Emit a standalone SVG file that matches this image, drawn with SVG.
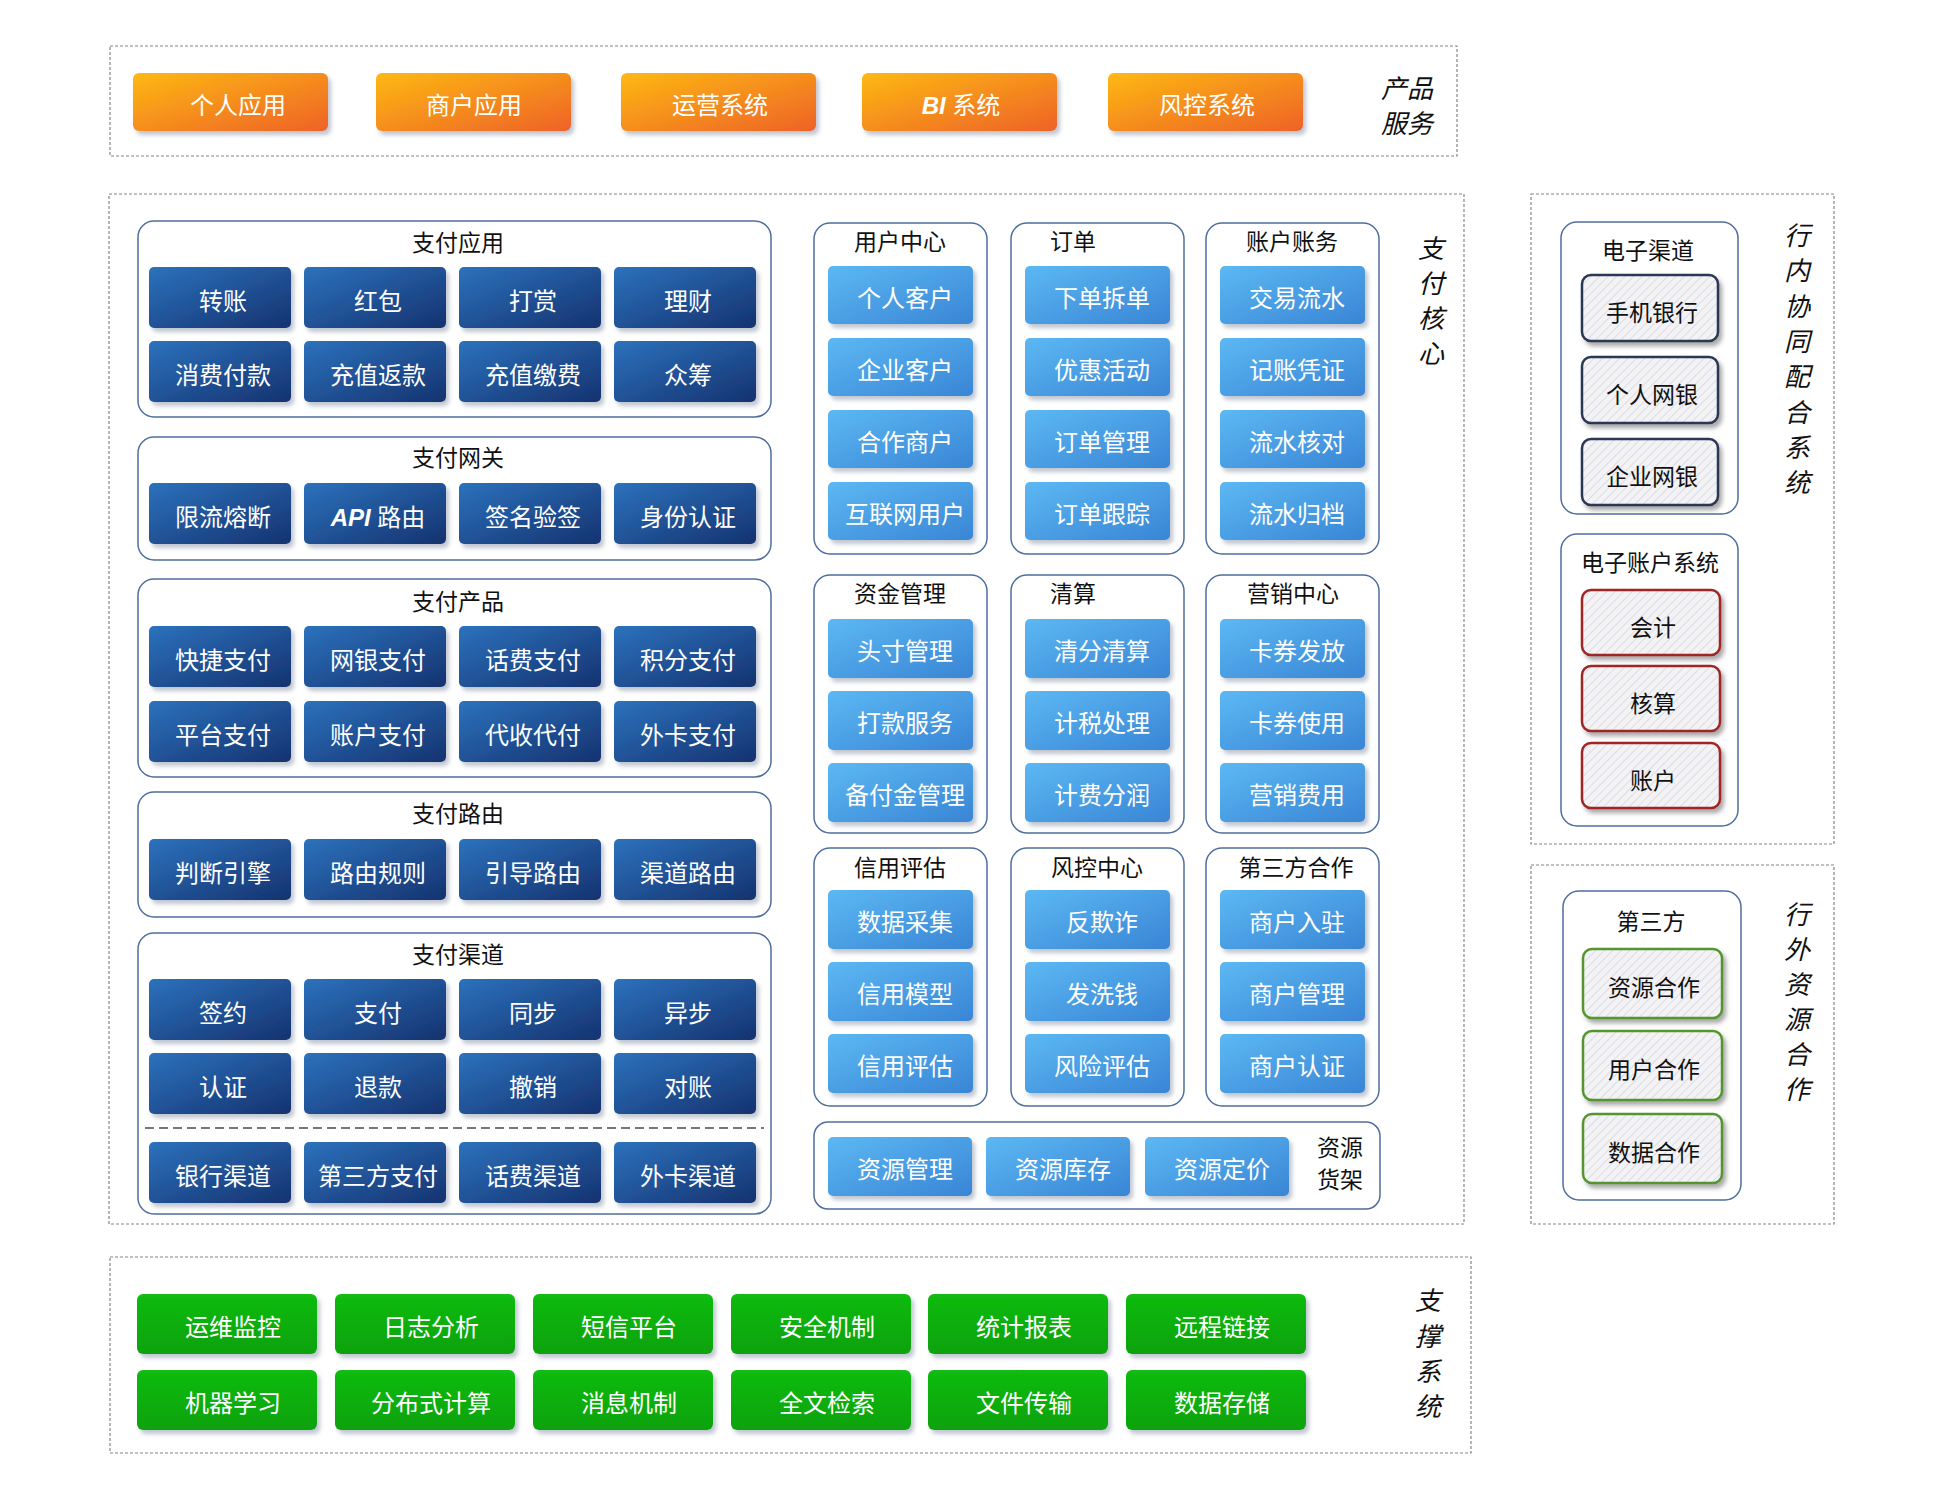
<svg xmlns="http://www.w3.org/2000/svg" width="1946" height="1506" viewBox="0 0 1946 1506">
<defs>
<linearGradient id="gDark" x1="0" y1="0" x2="1" y2="1"><stop offset="0" stop-color="#2c72bd"/><stop offset="1" stop-color="#15326f"/></linearGradient>
<linearGradient id="gLight" x1="0" y1="0" x2="1" y2="1"><stop offset="0" stop-color="#5cb8f3"/><stop offset="1" stop-color="#3985d5"/></linearGradient>
<linearGradient id="gOrange" x1="0" y1="0" x2="1" y2="1"><stop offset="0" stop-color="#fdb913"/><stop offset="1" stop-color="#ee6227"/></linearGradient>
<linearGradient id="gGreen" x1="0" y1="0" x2="0" y2="1"><stop offset="0" stop-color="#12bb12"/><stop offset="1" stop-color="#08a208"/></linearGradient>
<pattern id="hatch" width="6" height="6" patternUnits="userSpaceOnUse" patternTransform="rotate(45)"><rect width="6" height="6" fill="#f3f3f6"/><line x1="0" y1="0" x2="0" y2="6" stroke="#dcdce2" stroke-width="2"/></pattern>
<filter id="sh" x="-10%" y="-10%" width="125%" height="135%"><feDropShadow dx="3" dy="4" stdDeviation="2" flood-color="#8d98aa" flood-opacity="0.55"/></filter>
<filter id="shd" x="-10%" y="-10%" width="125%" height="135%"><feDropShadow dx="3" dy="4" stdDeviation="2.2" flood-color="#555" flood-opacity="0.5"/></filter>
</defs>
<style>
text{font-family:"Liberation Sans","Noto Sans CJK SC",sans-serif}
.frame{fill:none;stroke:#858585;stroke-width:1.2;stroke-dasharray:3 2}
.panel{fill:#fff;stroke:#4f6e9f;stroke-width:1.5}
.dk{fill:url(#gDark);filter:url(#sh)}
.lt{fill:url(#gLight);filter:url(#sh)}
.or{fill:url(#gOrange);filter:url(#sh)}
.gr{fill:url(#gGreen);filter:url(#sh)}
.bn{fill:url(#hatch);stroke:#2b3756;stroke-width:2.5;filter:url(#shd)}
.br{fill:url(#hatch);stroke:#a02525;stroke-width:2.5;filter:url(#shd)}
.bg{fill:url(#hatch);stroke:#55952f;stroke-width:2.5;filter:url(#shd)}
.bt{fill:#fff;font-size:24px;text-anchor:middle}
.kt{fill:#111;font-size:23px;text-anchor:middle}
.tt{fill:#111;font-size:23px;text-anchor:middle}
.vt{fill:#111;font-size:26px;font-style:italic;text-anchor:middle}
.lat{font-weight:bold;font-style:italic}
</style>

<!-- 产品服务 -->
<g id="product-service">
<rect class="frame" x="110" y="46" width="1347" height="110"/>
<g id="n-personal-app"><rect class="or" x="133" y="73" width="195" height="58" rx="6"/><text class="bt" x="238" y="114">个人应用</text></g>
<g id="n-merchant-app"><rect class="or" x="376" y="73" width="195" height="58" rx="6"/><text class="bt" x="474" y="114">商户应用</text></g>
<g id="n-ops"><rect class="or" x="621" y="73" width="195" height="58" rx="6"/><text class="bt" x="720" y="114">运营系统</text></g>
<g id="n-bi"><rect class="or" x="862" y="73" width="195" height="58" rx="6"/><text class="bt" x="961" y="114"><tspan class="lat">BI</tspan> 系统</text></g>
<g id="n-risk-sys"><rect class="or" x="1108" y="73" width="195" height="58" rx="6"/><text class="bt" x="1207" y="114">风控系统</text></g>
<text class="vt" x="1407" y="98">产品</text>
<text class="vt" x="1407" y="133">服务</text>
</g>

<!-- 支付核心 -->
<g id="pay-core">
<rect class="frame" x="109" y="194" width="1355" height="1030"/>
<g class="vlabel"><text class="vt" x="1431" y="258">支</text><text class="vt" x="1431" y="293">付</text><text class="vt" x="1431" y="328">核</text><text class="vt" x="1431" y="363">心</text></g>

<g id="pay-app">
<rect class="panel" x="138" y="221" width="633" height="196" rx="16"/>
<text class="tt" x="458" y="251">支付应用</text>
<g id="n-zz"><rect class="dk" x="149" y="267" width="142" height="61" rx="5"/><text class="bt" x="223" y="310">转账</text></g>
<g id="n-hb"><rect class="dk" x="304" y="267" width="142" height="61" rx="5"/><text class="bt" x="378" y="310">红包</text></g>
<g id="n-ds"><rect class="dk" x="459" y="267" width="142" height="61" rx="5"/><text class="bt" x="533" y="310">打赏</text></g>
<g id="n-lc"><rect class="dk" x="614" y="267" width="142" height="61" rx="5"/><text class="bt" x="688" y="310">理财</text></g>
<g id="n-xffk"><rect class="dk" x="149" y="341" width="142" height="61" rx="5"/><text class="bt" x="223" y="384">消费付款</text></g>
<g id="n-czfk"><rect class="dk" x="304" y="341" width="142" height="61" rx="5"/><text class="bt" x="378" y="384">充值返款</text></g>
<g id="n-czjf"><rect class="dk" x="459" y="341" width="142" height="61" rx="5"/><text class="bt" x="533" y="384">充值缴费</text></g>
<g id="n-zc"><rect class="dk" x="614" y="341" width="142" height="61" rx="5"/><text class="bt" x="688" y="384">众筹</text></g>
</g>

<g id="pay-gateway">
<rect class="panel" x="138" y="437" width="633" height="123" rx="16"/>
<text class="tt" x="458" y="466">支付网关</text>
<g id="n-xlrd"><rect class="dk" x="149" y="483" width="142" height="61" rx="5"/><text class="bt" x="223" y="526">限流熔断</text></g>
<g id="n-api"><rect class="dk" x="304" y="483" width="142" height="61" rx="5"/><text class="bt" x="378" y="526"><tspan class="lat">API</tspan> 路由</text></g>
<g id="n-qmyq"><rect class="dk" x="459" y="483" width="142" height="61" rx="5"/><text class="bt" x="533" y="526">签名验签</text></g>
<g id="n-sfrz"><rect class="dk" x="614" y="483" width="142" height="61" rx="5"/><text class="bt" x="688" y="526">身份认证</text></g>
</g>

<g id="pay-product">
<rect class="panel" x="138" y="579" width="633" height="198" rx="16"/>
<text class="tt" x="458" y="610">支付产品</text>
<g id="n-kjzf"><rect class="dk" x="149" y="626" width="142" height="61" rx="5"/><text class="bt" x="223" y="669">快捷支付</text></g>
<g id="n-wyzf"><rect class="dk" x="304" y="626" width="142" height="61" rx="5"/><text class="bt" x="378" y="669">网银支付</text></g>
<g id="n-hfzf"><rect class="dk" x="459" y="626" width="142" height="61" rx="5"/><text class="bt" x="533" y="669">话费支付</text></g>
<g id="n-jfzf"><rect class="dk" x="614" y="626" width="142" height="61" rx="5"/><text class="bt" x="688" y="669">积分支付</text></g>
<g id="n-ptzf"><rect class="dk" x="149" y="701" width="142" height="61" rx="5"/><text class="bt" x="223" y="744">平台支付</text></g>
<g id="n-zhzf"><rect class="dk" x="304" y="701" width="142" height="61" rx="5"/><text class="bt" x="378" y="744">账户支付</text></g>
<g id="n-dsdf"><rect class="dk" x="459" y="701" width="142" height="61" rx="5"/><text class="bt" x="533" y="744">代收代付</text></g>
<g id="n-wkzf"><rect class="dk" x="614" y="701" width="142" height="61" rx="5"/><text class="bt" x="688" y="744">外卡支付</text></g>
</g>

<g id="pay-route">
<rect class="panel" x="138" y="792" width="633" height="125" rx="16"/>
<text class="tt" x="458" y="822">支付路由</text>
<g id="n-pdyq"><rect class="dk" x="149" y="839" width="142" height="61" rx="5"/><text class="bt" x="223" y="882">判断引擎</text></g>
<g id="n-lygz"><rect class="dk" x="304" y="839" width="142" height="61" rx="5"/><text class="bt" x="378" y="882">路由规则</text></g>
<g id="n-ydly"><rect class="dk" x="459" y="839" width="142" height="61" rx="5"/><text class="bt" x="533" y="882">引导路由</text></g>
<g id="n-qdly"><rect class="dk" x="614" y="839" width="142" height="61" rx="5"/><text class="bt" x="688" y="882">渠道路由</text></g>
</g>

<g id="pay-channel">
<rect class="panel" x="138" y="933" width="633" height="281" rx="16"/>
<text class="tt" x="458" y="963">支付渠道</text>
<g id="n-qy"><rect class="dk" x="149" y="979" width="142" height="61" rx="5"/><text class="bt" x="223" y="1022">签约</text></g>
<g id="n-zf"><rect class="dk" x="304" y="979" width="142" height="61" rx="5"/><text class="bt" x="378" y="1022">支付</text></g>
<g id="n-tb"><rect class="dk" x="459" y="979" width="142" height="61" rx="5"/><text class="bt" x="533" y="1022">同步</text></g>
<g id="n-yb"><rect class="dk" x="614" y="979" width="142" height="61" rx="5"/><text class="bt" x="688" y="1022">异步</text></g>
<g id="n-rz"><rect class="dk" x="149" y="1053" width="142" height="61" rx="5"/><text class="bt" x="223" y="1096">认证</text></g>
<g id="n-tk"><rect class="dk" x="304" y="1053" width="142" height="61" rx="5"/><text class="bt" x="378" y="1096">退款</text></g>
<g id="n-cx"><rect class="dk" x="459" y="1053" width="142" height="61" rx="5"/><text class="bt" x="533" y="1096">撤销</text></g>
<g id="n-dz"><rect class="dk" x="614" y="1053" width="142" height="61" rx="5"/><text class="bt" x="688" y="1096">对账</text></g>
<line x1="145" y1="1128" x2="764" y2="1128" stroke="#4a4a4a" stroke-width="1.5" stroke-dasharray="9 5"/>
<g id="n-yhqd"><rect class="dk" x="149" y="1142" width="142" height="61" rx="5"/><text class="bt" x="223" y="1185">银行渠道</text></g>
<g id="n-dsfzf"><rect class="dk" x="304" y="1142" width="142" height="61" rx="5"/><text class="bt" x="378" y="1185">第三方支付</text></g>
<g id="n-hfqd"><rect class="dk" x="459" y="1142" width="142" height="61" rx="5"/><text class="bt" x="533" y="1185">话费渠道</text></g>
<g id="n-wkqd"><rect class="dk" x="614" y="1142" width="142" height="61" rx="5"/><text class="bt" x="688" y="1185">外卡渠道</text></g>
</g>

<g id="user-center">
<rect class="panel" x="814" y="223" width="173" height="331" rx="16"/>
<text class="tt" x="900" y="250">用户中心</text>
<g id="n-grkh"><rect class="lt" x="828" y="266" width="145" height="58" rx="5"/><text class="bt" x="905" y="307">个人客户</text></g>
<g id="n-qykh"><rect class="lt" x="828" y="338" width="145" height="58" rx="5"/><text class="bt" x="905" y="379">企业客户</text></g>
<g id="n-hzsh"><rect class="lt" x="828" y="410" width="145" height="58" rx="5"/><text class="bt" x="905" y="451">合作商户</text></g>
<g id="n-hlwyh"><rect class="lt" x="828" y="482" width="145" height="58" rx="5"/><text class="bt" x="905" y="523">互联网用户</text></g>
</g>
<g id="order">
<rect class="panel" x="1011" y="223" width="173" height="331" rx="16"/>
<text class="tt" x="1073" y="250">订单</text>
<g id="n-xdcd"><rect class="lt" x="1025" y="266" width="145" height="58" rx="5"/><text class="bt" x="1102" y="307">下单拆单</text></g>
<g id="n-yhhd"><rect class="lt" x="1025" y="338" width="145" height="58" rx="5"/><text class="bt" x="1102" y="379">优惠活动</text></g>
<g id="n-ddgl"><rect class="lt" x="1025" y="410" width="145" height="58" rx="5"/><text class="bt" x="1102" y="451">订单管理</text></g>
<g id="n-ddgz"><rect class="lt" x="1025" y="482" width="145" height="58" rx="5"/><text class="bt" x="1102" y="523">订单跟踪</text></g>
</g>
<g id="account-ledger">
<rect class="panel" x="1206" y="223" width="173" height="331" rx="16"/>
<text class="tt" x="1292" y="250">账户账务</text>
<g id="n-jyls"><rect class="lt" x="1220" y="266" width="145" height="58" rx="5"/><text class="bt" x="1297" y="307">交易流水</text></g>
<g id="n-jzpz"><rect class="lt" x="1220" y="338" width="145" height="58" rx="5"/><text class="bt" x="1297" y="379">记账凭证</text></g>
<g id="n-lshd"><rect class="lt" x="1220" y="410" width="145" height="58" rx="5"/><text class="bt" x="1297" y="451">流水核对</text></g>
<g id="n-lsgd"><rect class="lt" x="1220" y="482" width="145" height="58" rx="5"/><text class="bt" x="1297" y="523">流水归档</text></g>
</g>

<g id="fund-mgmt">
<rect class="panel" x="814" y="575" width="173" height="258" rx="16"/>
<text class="tt" x="900" y="602">资金管理</text>
<g id="n-tcgl"><rect class="lt" x="828" y="619" width="145" height="59" rx="5"/><text class="bt" x="905" y="660">头寸管理</text></g>
<g id="n-dkfw"><rect class="lt" x="828" y="691" width="145" height="59" rx="5"/><text class="bt" x="905" y="732">打款服务</text></g>
<g id="n-bfjgl"><rect class="lt" x="828" y="763" width="145" height="59" rx="5"/><text class="bt" x="905" y="804">备付金管理</text></g>
</g>
<g id="clearing">
<rect class="panel" x="1011" y="575" width="173" height="258" rx="16"/>
<text class="tt" x="1073" y="602">清算</text>
<g id="n-qfqs"><rect class="lt" x="1025" y="619" width="145" height="59" rx="5"/><text class="bt" x="1102" y="660">清分清算</text></g>
<g id="n-jscl"><rect class="lt" x="1025" y="691" width="145" height="59" rx="5"/><text class="bt" x="1102" y="732">计税处理</text></g>
<g id="n-jffr"><rect class="lt" x="1025" y="763" width="145" height="59" rx="5"/><text class="bt" x="1102" y="804">计费分润</text></g>
</g>
<g id="marketing">
<rect class="panel" x="1206" y="575" width="173" height="258" rx="16"/>
<text class="tt" x="1293" y="602">营销中心</text>
<g id="n-kqff"><rect class="lt" x="1220" y="619" width="145" height="59" rx="5"/><text class="bt" x="1297" y="660">卡券发放</text></g>
<g id="n-kqsy"><rect class="lt" x="1220" y="691" width="145" height="59" rx="5"/><text class="bt" x="1297" y="732">卡券使用</text></g>
<g id="n-yxfy"><rect class="lt" x="1220" y="763" width="145" height="59" rx="5"/><text class="bt" x="1297" y="804">营销费用</text></g>
</g>

<g id="credit">
<rect class="panel" x="814" y="848" width="173" height="258" rx="16"/>
<text class="tt" x="900" y="876">信用评估</text>
<g id="n-sjcj"><rect class="lt" x="828" y="890" width="145" height="59" rx="5"/><text class="bt" x="905" y="931">数据采集</text></g>
<g id="n-xymx"><rect class="lt" x="828" y="962" width="145" height="59" rx="5"/><text class="bt" x="905" y="1003">信用模型</text></g>
<g id="n-xypg"><rect class="lt" x="828" y="1034" width="145" height="59" rx="5"/><text class="bt" x="905" y="1075">信用评估</text></g>
</g>
<g id="risk-center">
<rect class="panel" x="1011" y="848" width="173" height="258" rx="16"/>
<text class="tt" x="1097" y="876">风控中心</text>
<g id="n-fqz"><rect class="lt" x="1025" y="890" width="145" height="59" rx="5"/><text class="bt" x="1102" y="931">反欺诈</text></g>
<g id="n-fxq"><rect class="lt" x="1025" y="962" width="145" height="59" rx="5"/><text class="bt" x="1102" y="1003">发洗钱</text></g>
<g id="n-fxpg"><rect class="lt" x="1025" y="1034" width="145" height="59" rx="5"/><text class="bt" x="1102" y="1075">风险评估</text></g>
</g>
<g id="third-coop">
<rect class="panel" x="1206" y="848" width="173" height="258" rx="16"/>
<text class="tt" x="1296" y="876">第三方合作</text>
<g id="n-shrz"><rect class="lt" x="1220" y="890" width="145" height="59" rx="5"/><text class="bt" x="1297" y="931">商户入驻</text></g>
<g id="n-shgl"><rect class="lt" x="1220" y="962" width="145" height="59" rx="5"/><text class="bt" x="1297" y="1003">商户管理</text></g>
<g id="n-shrz2"><rect class="lt" x="1220" y="1034" width="145" height="59" rx="5"/><text class="bt" x="1297" y="1075">商户认证</text></g>
</g>

<g id="resource-shelf">
<rect class="panel" x="814" y="1122" width="566" height="87" rx="14"/>
<g id="n-zygl"><rect class="lt" x="828" y="1137" width="144" height="59" rx="5"/><text class="bt" x="905" y="1178">资源管理</text></g>
<g id="n-zykc"><rect class="lt" x="986" y="1137" width="144" height="59" rx="5"/><text class="bt" x="1063" y="1178">资源库存</text></g>
<g id="n-zydj"><rect class="lt" x="1145" y="1137" width="144" height="59" rx="5"/><text class="bt" x="1222" y="1178">资源定价</text></g>
<text class="tt" x="1340" y="1156">资源</text>
<text class="tt" x="1340" y="1188">货架</text>
</g>
</g>

<!-- 行内协同配合系统 -->
<g id="internal-systems">
<rect class="frame" x="1531" y="194" width="303" height="650"/>
<g id="e-channel">
<rect class="panel" x="1561" y="222" width="177" height="292" rx="16"/>
<text class="tt" x="1648" y="259">电子渠道</text>
<g id="n-sjyh"><rect class="bn" x="1582" y="275" width="136" height="66" rx="9"/><text class="kt" x="1652" y="321">手机银行</text></g>
<g id="n-grwy"><rect class="bn" x="1582" y="357" width="136" height="66" rx="9"/><text class="kt" x="1652" y="403">个人网银</text></g>
<g id="n-qywy"><rect class="bn" x="1582" y="439" width="136" height="66" rx="9"/><text class="kt" x="1652" y="485">企业网银</text></g>
</g>
<g id="e-account">
<rect class="panel" x="1561" y="534" width="177" height="292" rx="16"/>
<text class="tt" x="1650" y="571">电子账户系统</text>
<g id="n-kj"><rect class="br" x="1582" y="590" width="138" height="65" rx="9"/><text class="kt" x="1653" y="636">会计</text></g>
<g id="n-hs"><rect class="br" x="1582" y="666" width="138" height="65" rx="9"/><text class="kt" x="1653" y="712">核算</text></g>
<g id="n-zh"><rect class="br" x="1582" y="743" width="138" height="65" rx="9"/><text class="kt" x="1653" y="789">账户</text></g>
</g>
<g class="vlabel">
<text class="vt" x="1797" y="245">行</text><text class="vt" x="1797" y="280">内</text><text class="vt" x="1797" y="316">协</text><text class="vt" x="1797" y="351">同</text><text class="vt" x="1797" y="386">配</text><text class="vt" x="1797" y="422">合</text><text class="vt" x="1797" y="457">系</text><text class="vt" x="1797" y="492">统</text>
</g>
</g>

<!-- 行外资源合作 -->
<g id="external-resources">
<rect class="frame" x="1531" y="865" width="303" height="359"/>
<g id="third-party">
<rect class="panel" x="1563" y="891" width="178" height="309" rx="16"/>
<text class="tt" x="1651" y="930">第三方</text>
<g id="n-zyhz"><rect class="bg" x="1583" y="949" width="139" height="69" rx="9"/><text class="kt" x="1654" y="996">资源合作</text></g>
<g id="n-yhhz"><rect class="bg" x="1583" y="1031" width="139" height="69" rx="9"/><text class="kt" x="1654" y="1078">用户合作</text></g>
<g id="n-sjhz"><rect class="bg" x="1583" y="1114" width="139" height="69" rx="9"/><text class="kt" x="1654" y="1161">数据合作</text></g>
</g>
<g class="vlabel">
<text class="vt" x="1797" y="924">行</text><text class="vt" x="1797" y="959">外</text><text class="vt" x="1797" y="994">资</text><text class="vt" x="1797" y="1029">源</text><text class="vt" x="1797" y="1064">合</text><text class="vt" x="1797" y="1099">作</text>
</g>
</g>

<!-- 支撑系统 -->
<g id="support-systems">
<rect class="frame" x="110" y="1257" width="1361" height="196"/>
<g id="n-ywjk"><rect class="gr" x="137" y="1294" width="180" height="60" rx="6"/><text class="bt" x="233" y="1336">运维监控</text></g>
<g id="n-rzfx"><rect class="gr" x="335" y="1294" width="180" height="60" rx="6"/><text class="bt" x="431" y="1336">日志分析</text></g>
<g id="n-dxpt"><rect class="gr" x="533" y="1294" width="180" height="60" rx="6"/><text class="bt" x="629" y="1336">短信平台</text></g>
<g id="n-aqjz"><rect class="gr" x="731" y="1294" width="180" height="60" rx="6"/><text class="bt" x="827" y="1336">安全机制</text></g>
<g id="n-tjbb"><rect class="gr" x="928" y="1294" width="180" height="60" rx="6"/><text class="bt" x="1024" y="1336">统计报表</text></g>
<g id="n-ycljj"><rect class="gr" x="1126" y="1294" width="180" height="60" rx="6"/><text class="bt" x="1222" y="1336">远程链接</text></g>
<g id="n-jqxx"><rect class="gr" x="137" y="1370" width="180" height="60" rx="6"/><text class="bt" x="233" y="1412">机器学习</text></g>
<g id="n-fbsjs"><rect class="gr" x="335" y="1370" width="180" height="60" rx="6"/><text class="bt" x="431" y="1412">分布式计算</text></g>
<g id="n-xxjz"><rect class="gr" x="533" y="1370" width="180" height="60" rx="6"/><text class="bt" x="629" y="1412">消息机制</text></g>
<g id="n-qwjs"><rect class="gr" x="731" y="1370" width="180" height="60" rx="6"/><text class="bt" x="827" y="1412">全文检索</text></g>
<g id="n-wjcs"><rect class="gr" x="928" y="1370" width="180" height="60" rx="6"/><text class="bt" x="1024" y="1412">文件传输</text></g>
<g id="n-sjcc"><rect class="gr" x="1126" y="1370" width="180" height="60" rx="6"/><text class="bt" x="1222" y="1412">数据存储</text></g>
<g class="vlabel">
<text class="vt" x="1428" y="1310">支</text><text class="vt" x="1428" y="1346">撑</text><text class="vt" x="1428" y="1381">系</text><text class="vt" x="1428" y="1416">统</text>
</g>
</g>

<g id="connectors"/>
</svg>
